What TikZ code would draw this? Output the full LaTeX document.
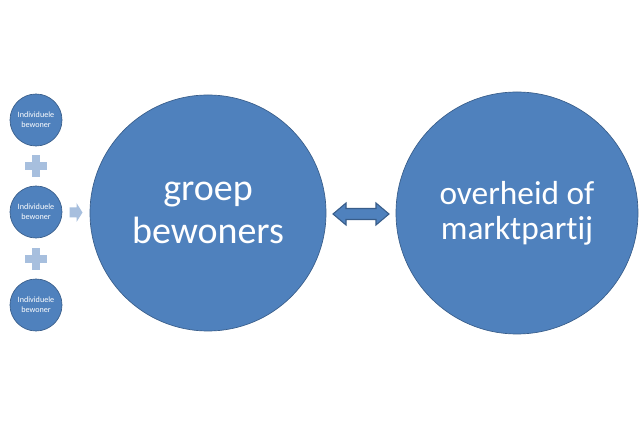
\documentclass[tikz,border=0pt]{standalone}
\usepackage{fontspec}
\setmainfont[Ligatures={NoCommon}]{Carlito}
\usetikzlibrary{calc}
\definecolor{BolFill} {RGB}{79,129,189}
\definecolor{BolLine} {RGB}{56,93,138}
\definecolor{PlusFill}{RGB}{167,191,222}
\tikzset{
  nd_klein/.style={circle,fill=BolFill,draw=BolLine,line width=0.5pt,minimum size=39pt,inner sep=0pt,align=center,text=white,font=\fontsize{6.1}{7.6}\selectfont},
  nd_groot/.style={circle,fill=BolFill,draw=BolLine,line width=0.5pt,inner sep=0pt,align=center,text=white},
  nd_punt/.style={minimum size=0pt,inner sep=0pt},
  pijl_licht/.style={fill=PlusFill},
  pijl_dubbel/.style={fill=BolFill,draw=BolLine,line width=0.8pt,line join=miter},
}

\begin{document}
\begin{tikzpicture}[x=0.75pt,y=-0.75pt]
\fill[white](0,0) rectangle (640,427);
\useasboundingbox (0,0) rectangle (640,427);
% kleine bollen
\node[nd_klein] at (36,120)(I1){Individuele\\bewoner};
\node[nd_klein] at (36,212)(I2){Individuele\\bewoner};
\node[nd_klein] at (36,305)(I3){Individuele\\bewoner};
% plustekens
\foreach \n/\y in {P1/166,P2/259}{
  \node[nd_punt] at (36,\y)(\n){};
  \fill[PlusFill](\n.center) ++(-11,-4) rectangle ++(22,8);
  \fill[PlusFill](\n.center) ++(-4,-11) rectangle ++(8,22);
}
% grote bollen
\node[nd_groot,minimum size=177pt,font=\fontsize{28.5}{32.5}\selectfont] at (208,213)(G){groep\\bewoners};
\node[nd_groot,minimum size=181.5pt,font=\fontsize{25}{26.5}\selectfont] at (517,213)(O){overheid of\\marktpartij};
% pijlen
\node[nd_punt] at ($(I2.east)!0.5!(G.west)$)(A1){};
\fill[pijl_licht](A1.center) ++(-6.5,-5) -- ++(7,0) -- ++(0,-4.5) -- ++(6,9.5)
  -- ++(-6,9.5) -- ++(0,-4.5) -- ++(-7,0) -- cycle;
\node[nd_punt] at ($(G.east)!0.5!(O.west)+(0,1)$)(A2){};
\draw[pijl_dubbel](A2.center) ++(-28,0) -- ++(13,-11) -- ++(0,5.5) -- ++(30,0)
  -- ++(0,-5.5) -- ++(13,11) -- ++(-13,11) -- ++(0,-5.5) -- ++(-30,0)
  -- ++(0,5.5) -- cycle;
\end{tikzpicture}
\end{document}
